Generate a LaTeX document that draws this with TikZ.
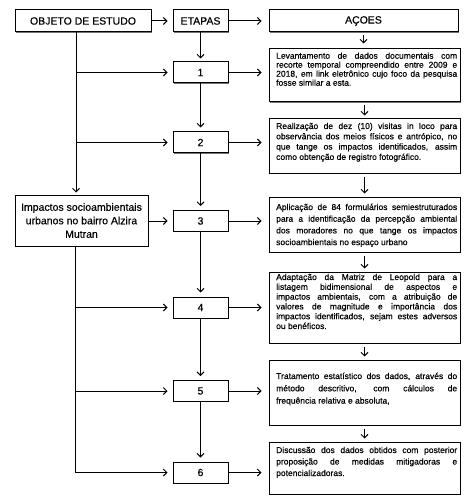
\documentclass[tikz,border=0pt]{standalone}
\usepackage{fontspec}
\setmainfont{Liberation Sans}[FakeBold=0.4]
\usetikzlibrary{arrows.meta,shadows}
\hyphenpenalty=10000
\exhyphenpenalty=10000
\tolerance=10000
\begin{document}
\begin{tikzpicture}[x=1pt,y=-1pt,
  box/.style={draw, line width=1pt, fill=white, inner sep=0pt,
    drop shadow={shadow xshift=0.8pt, shadow yshift=-0.8pt, fill=black!55, opacity=1}},
  hdr/.style={box, minimum height=22pt, font=\fontsize{10.5}{12}\selectfont},
  stepbox/.style={box, minimum width=55pt, minimum height=21pt, font=\fontsize{10.5}{12}\selectfont},
  actbox/.style={box, minimum width=191pt},
  atext/.style={font=\fontsize{8.5}{#1}\selectfont, text width=181pt, align=justify, inner sep=0pt, anchor=base west},
  arr/.style={-{Straight Barb[length=3.5pt,width=7pt]}, line width=1pt},
  ln/.style={line width=1pt}]
\useasboundingbox (0,0) rectangle (474,497);

% header
\node[hdr, minimum width=136pt] (obj) at (83,21) {OBJETO DE ESTUDO};
\node[hdr, minimum width=55pt] (etp) at (200.5,21) {ETAPAS};
\node[hdr, minimum width=189pt] (aco) at (363.5,21) {AÇOES};

% steps
\node[stepbox] (e1) at (200.5,72.5) {1};
\node[stepbox] (e2) at (200.5,142.5) {2};
\node[stepbox] (e3) at (200.5,221) {3};
\node[stepbox] (e4) at (200.5,307.5) {4};
\node[stepbox] (e5) at (200.5,391) {5};
\node[stepbox] (e6) at (200.5,472.5) {6};

% object
\node[box, minimum width=133pt, minimum height=51pt, align=center,
  font=\fontsize{10.5}{13.5}\selectfont] (imp) at (81.5,220.5)
  {Impactos socioambientais\\urbanos no bairro Alzira\\Mutran};

% action boxes
\node[actbox, minimum height=53pt] (a1) at (364.5,75.5) {};
\node[actbox, minimum height=54pt] (a2) at (364.5,146) {};
\node[actbox, minimum height=55pt] (a3) at (364.5,224.5) {};
\node[actbox, minimum height=71pt] (a4) at (364.5,307.5) {};
\node[actbox, minimum height=65pt] (a5) at (364.5,392.5) {};
\node[actbox, minimum height=52pt] (a6) at (364.5,468) {};

% action texts
\node[atext=9pt] (t1) at (276,58.7) {Levantamento de dados documentais com\linebreak
recorte temporal compreendido entre 2009 e\linebreak
2018, em link eletrônico cujo foco da pesquisa\linebreak
fosse similar a esta.};
\node[atext=10.3pt] (t2) at (276,129) {Realização de dez (10) visitas in loco para\linebreak
observância dos meios físicos e antrópico, no\linebreak
que tange os impactos identificados, assim\linebreak
como obtenção de registro fotográfico.};
\node[atext=11.7pt] (t3) at (276,210) {Aplicação de 84 formulários semiestruturados\linebreak
para a identificação da percepção ambiental\linebreak
dos moradores no que tange os impactos\linebreak
socioambientais no espaço urbano};
\node[atext=9.8pt] (t4) at (276,280) {Adaptação da Matriz de Leopold para a\linebreak
listagem bidimensional de aspectos e\linebreak
impactos ambientais, com a atribuição de\linebreak
valores de magnitude e importância dos\linebreak
impactos identificados, sejam estes adversos\linebreak
ou benéficos.};
\node[atext=12.3pt] (t5) at (276,379) {Tratamento estatístico dos dados, através do\linebreak
método descritivo, com cálculos de\linebreak
frequência relativa e absoluta,};
\node[atext=11.5pt] (t6) at (276,453) {Discussão dos dados obtidos com posterior\linebreak
proposição de medidas mitigadoras e\linebreak
potencializadoras.};

% header arrows
\draw[arr, shorten >=5pt] (obj.east) -- (etp.west);
\draw[arr, shorten >=7pt] (etp.east) -- (aco.west);

% actions chain
\draw[arr, shorten <=3pt, shorten >=5pt] (aco.south) -- (aco.south |- a1.north);
\draw[arr, shorten <=3pt, shorten >=3pt] (a1.south) -- (a2.north);
\draw[arr, shorten <=3pt, shorten >=3pt] (a2.south) -- (a3.north);
\draw[arr, shorten <=3pt, shorten >=3pt] (a3.south) -- (a4.north);
\draw[arr, shorten <=3pt, shorten >=3pt] (a4.south) -- (a5.north);
\draw[arr, shorten <=3pt, shorten >=3pt] (a5.south) -- (a6.north);

% steps chain
\draw[arr, shorten >=3pt] (etp.south) -- (e1.north);
\draw[arr, shorten >=4pt] (e1.south) -- (e2.north);
\draw[arr, shorten >=4pt] (e2.south) -- (e3.north);
\draw[arr, shorten >=4pt] (e3.south) -- (e4.north);
\draw[arr, shorten >=4pt] (e4.south) -- (e5.north);
\draw[arr, shorten >=4pt] (e5.south) -- (e6.north);

% steps to actions
\foreach \i in {1,...,6}{
  \draw[arr, shorten >=7pt] (e\i.east) -- (e\i.east -| a\i.west);
}

% trunk
\coordinate (trk) at (76,0);
\coordinate (trkb) at (75,0);
\draw[arr, shorten >=2pt] (obj.south -| trk) -- (imp.north -| trk);
\draw[arr, shorten >=5pt] (e1.west -| trk) -- (e1.west);
\draw[arr, shorten >=5pt] (e2.west -| trk) -- (e2.west);
\draw[arr, shorten >=5pt] (imp.east |- e3.west) -- (e3.west);
\draw[ln] (imp.south -| trkb) -- (e6.west -| trkb);
\draw[arr, shorten >=5pt] (e4.west -| trkb) -- (e4.west);
\draw[arr, shorten >=5pt] (e5.west -| trkb) -- (e5.west);
\draw[arr, shorten >=5pt] (e6.west -| trkb) -- (e6.west);
\end{tikzpicture}
\end{document}
